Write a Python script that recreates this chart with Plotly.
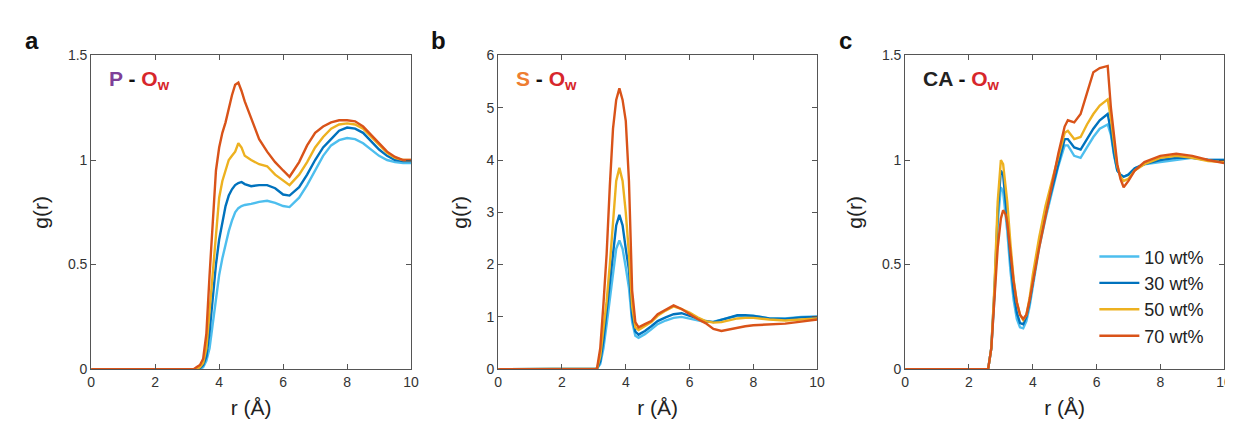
import plotly.graph_objects as go

# ---------------- data ----------------
series_names = ["10 wt%", "30 wt%", "50 wt%", "70 wt%"]
series_colors = ["#4DBEEE", "#0072BD", "#EDB120", "#D95319"]

# Panel a: P - Ow
r_a = [0, 3.2, 3.3, 3.4, 3.5, 3.6, 3.7, 3.8, 3.9, 4.0, 4.1, 4.2, 4.3, 4.4, 4.5, 4.6, 4.7, 4.8,
       5.0, 5.25, 5.5, 5.75, 6.0, 6.2, 6.5, 6.75, 7.0, 7.25, 7.5, 7.75, 8.0, 8.25, 8.5, 8.75,
       9.0, 9.25, 9.5, 9.75, 10.0]
g_a_10 = [0, 0, 0, 0, 0.01, 0.04, 0.1, 0.22, 0.35, 0.45, 0.53, 0.6, 0.66, 0.71, 0.75, 0.77, 0.78, 0.785,
          0.79, 0.8, 0.805, 0.795, 0.78, 0.775, 0.82, 0.88, 0.95, 1.02, 1.07, 1.095, 1.105, 1.1, 1.08, 1.05,
          1.02, 1.0, 0.99, 0.985, 0.985]
g_a_30 = [0, 0, 0, 0.005, 0.02, 0.06, 0.18, 0.34, 0.5, 0.62, 0.71, 0.78, 0.83, 0.86, 0.88, 0.89, 0.895, 0.885,
          0.875, 0.88, 0.88, 0.865, 0.835, 0.83, 0.87, 0.93, 1.0, 1.06, 1.1, 1.14, 1.155, 1.15, 1.13, 1.09,
          1.05, 1.02, 1.0, 0.995, 0.995]
g_a_50 = [0, 0, 0, 0.01, 0.03, 0.1, 0.28, 0.48, 0.66, 0.82, 0.9, 0.95, 1.0, 1.02, 1.04, 1.08, 1.06, 1.02,
          1.0, 0.98, 0.97, 0.93, 0.9, 0.88, 0.93, 0.99, 1.06, 1.11, 1.15, 1.17, 1.175, 1.17, 1.15, 1.11,
          1.07, 1.035, 1.01, 1.0, 1.0]
g_a_70 = [0, 0, 0.01, 0.02, 0.05, 0.17, 0.45, 0.7, 0.95, 1.06, 1.13, 1.18, 1.25, 1.31, 1.36, 1.37, 1.33, 1.28,
          1.2, 1.1, 1.04, 0.99, 0.95, 0.92, 0.99, 1.07, 1.13, 1.16, 1.18, 1.19, 1.19, 1.185, 1.16, 1.12,
          1.075, 1.04, 1.015, 1.0, 1.0]

# Panel b: S - Ow
r_b = [0, 3.05, 3.1, 3.2, 3.3, 3.4, 3.5, 3.6, 3.7, 3.8, 3.9, 4.0, 4.1, 4.2, 4.3, 4.4, 4.6, 4.8,
       5.0, 5.25, 5.5, 5.75, 6.0, 6.25, 6.5, 6.75, 7.0, 7.25, 7.5, 7.75, 8.0, 8.5, 9.0, 9.5, 10.0]
g_b_10 = [0, 0, 0.01, 0.1, 0.4, 0.85, 1.35, 1.9, 2.3, 2.46, 2.3, 1.95, 1.55, 0.9, 0.64, 0.6, 0.67, 0.76,
          0.86, 0.93, 0.98, 1.0, 0.97, 0.94, 0.9, 0.91, 0.95, 0.99, 1.02, 1.02, 1.02, 0.97, 0.97, 1.0, 1.01]
g_b_30 = [0, 0, 0.01, 0.15, 0.55, 1.1, 1.65, 2.3, 2.75, 2.95, 2.75, 2.3, 1.9, 1.0, 0.72, 0.66, 0.73, 0.82,
          0.92, 0.99, 1.05, 1.07, 1.02, 0.97, 0.92, 0.9, 0.94, 0.99, 1.03, 1.03, 1.02, 0.97, 0.96, 0.99, 1.0]
g_b_50 = [0, 0, 0.01, 0.25, 0.8, 1.3, 2.0, 2.9, 3.6, 3.85, 3.6, 3.0, 2.2, 1.2, 0.8, 0.75, 0.82, 0.9,
          1.02, 1.12, 1.2, 1.15, 1.08, 0.99, 0.92, 0.89, 0.9, 0.93, 0.97, 0.98, 0.98, 0.95, 0.93, 0.95, 0.97]
g_b_70 = [0, 0, 0.02, 0.4, 1.25, 2.2, 3.5, 4.6, 5.15, 5.37, 5.15, 4.75, 3.6, 1.5, 0.9, 0.8, 0.86, 0.92,
          1.05, 1.14, 1.22, 1.15, 1.05, 0.96, 0.88, 0.77, 0.73, 0.76, 0.8, 0.82, 0.84, 0.85, 0.87, 0.91, 0.95]

# Panel c: CA - Ow
r_c = [0, 2.6, 2.7, 2.8, 2.9, 3.0, 3.07, 3.15, 3.2, 3.3, 3.4, 3.5, 3.6, 3.7, 3.8, 3.9, 4.0, 4.2, 4.4,
       4.6, 4.8, 5.0, 5.1, 5.3, 5.5, 5.7, 5.9, 6.1, 6.35, 6.45, 6.55, 6.65, 6.75, 6.85, 7.0, 7.2, 7.5,
       8.0, 8.5, 9.0, 9.5, 10.0]
g_c_10 = [0, 0, 0.1, 0.35, 0.7, 0.87, 0.85, 0.75, 0.66, 0.47, 0.33, 0.24, 0.2, 0.195, 0.23, 0.3, 0.4, 0.58, 0.72,
          0.85, 0.97, 1.07, 1.07, 1.02, 1.01, 1.06, 1.11, 1.15, 1.17, 1.12, 1.02, 0.95, 0.93, 0.92, 0.93, 0.96, 0.98,
          0.99, 1.0, 1.01, 1.0, 1.0]
g_c_30 = [0, 0, 0.1, 0.38, 0.75, 0.95, 0.93, 0.82, 0.72, 0.52, 0.37, 0.27, 0.22, 0.215, 0.25, 0.32, 0.42, 0.6, 0.74,
          0.86, 0.99, 1.1, 1.1, 1.06, 1.05, 1.1, 1.15, 1.19, 1.22, 1.14, 1.03, 0.95, 0.93, 0.92, 0.93, 0.96, 0.98,
          1.0, 1.01, 1.01, 1.0, 1.0]
g_c_50 = [0, 0, 0.1, 0.4, 0.8, 1.0, 0.98, 0.88, 0.8, 0.6, 0.43, 0.32, 0.26, 0.235, 0.26, 0.34, 0.45, 0.63, 0.78,
          0.9, 1.02, 1.13, 1.14, 1.1, 1.11, 1.17, 1.22, 1.26, 1.29, 1.2, 1.08, 0.97, 0.92, 0.9, 0.91, 0.95, 0.98,
          1.01, 1.02, 1.01, 0.995, 0.99]
g_c_70 = [0, 0, 0.1, 0.35, 0.58, 0.72, 0.76, 0.74, 0.7, 0.56, 0.42, 0.32, 0.26, 0.24, 0.26, 0.33, 0.42, 0.58, 0.73,
          0.88, 1.03, 1.16, 1.19, 1.18, 1.22, 1.32, 1.42, 1.44, 1.45, 1.25, 1.1, 0.98, 0.91, 0.87, 0.9, 0.95, 0.99,
          1.02, 1.03, 1.02, 1.0, 0.985]

x_ticks = [0, 2, 4, 6, 8, 10]
y_ticks_a = [0, 0.5, 1, 1.5]
y_ticks_b = [0, 1, 2, 3, 4, 5, 6]
y_ticks_c = [0, 0.5, 1, 1.5]

# ---------------- figure ----------------
W, H = 1233, 424
FONT = "Liberation Sans, Arial, Helvetica, sans-serif"
fig = go.Figure()

panels = [
    ("", r_a, [g_a_10, g_a_30, g_a_50, g_a_70], y_ticks_a, [0, 1.5], (80, 403)),
    ("2", r_b, [g_b_10, g_b_30, g_b_50, g_b_70], y_ticks_b, [0, 6], (491, 813)),
    ("3", r_c, [g_c_10, g_c_30, g_c_50, g_c_70], y_ticks_c, [0, 1.5], (902, 1224)),
]

y_dom = [1 - 367 / H, 1 - 41 / H]

for idx, (sfx, r, gs, yt, yr, (xl, xr)) in enumerate(panels):
    for name, col, g in zip(series_names, series_colors, gs):
        fig.add_trace(go.Scatter(
            x=r, y=g, mode="lines", name=name,
            line=dict(color=col, width=2.4),
            xaxis="x" + sfx, yaxis="y" + sfx,
            showlegend=(idx == 2),
        ))
    axis_common = dict(showline=True, linecolor="#555555", linewidth=1, mirror="ticks",
                       ticks="inside", ticklen=5, tickcolor="#555555", showgrid=False,
                       zeroline=False, tickfont=dict(family=FONT, size=14, color="#333333"))
    fig.update_layout(**{
        "xaxis" + sfx: dict(domain=[xl / W, xr / W], range=[0, 10], tickvals=x_ticks,
                            anchor="y" + sfx,
                            title=dict(text="r (Å)", font=dict(family=FONT, size=21, color="#222222"),
                                       standoff=11),
                            **axis_common),
        "yaxis" + sfx: dict(domain=y_dom, range=yr, tickvals=yt,
                            ticktext=[("%g" % v) for v in yt],
                            anchor="x" + sfx,
                            title=dict(text="g(r)", font=dict(family=FONT, size=21, color="#222222"),
                                       standoff=13),
                            **axis_common),
    })

# panel letters
for letter, xpx in zip(["a", "b", "c"], [20, 431, 842]):
    fig.add_annotation(x=xpx / W, y=1 - 25 / H, xref="paper", yref="paper", text="<b>%s</b>" % letter,
                       showarrow=False, font=dict(family=FONT, size=24, color="#111111"),
                       xanchor="center", yanchor="middle")

# pair labels
red = "#D7262B"
labels = [
    ("<b><span style='color:#7E3F98'>P</span> - <span style='color:%s'>O<sub>w</sub></span></b>" % red, 96),
    ("<b><span style='color:#EE7D31'>S</span> - <span style='color:%s'>O<sub>w</sub></span></b>" % red, 507),
    ("<b><span style='color:#222222'>CA</span> - <span style='color:%s'>O<sub>w</sub></span></b>" % red, 918),
]
for txt, xpx in labels:
    fig.add_annotation(x=xpx / W, y=1 - 67 / H, xref="paper", yref="paper", text=txt,
                       showarrow=False, font=dict(family=FONT, size=21, color="#111111"),
                       xanchor="left", yanchor="middle")

fig.update_layout(
    width=W, height=H,
    margin=dict(l=0, r=0, t=0, b=0),
    paper_bgcolor="white", plot_bgcolor="white",
    font=dict(family=FONT, color="#222222"),
    legend=dict(x=1093 / W, y=1 - 231 / H, xanchor="left", yanchor="top",
                bgcolor="rgba(0,0,0,0)", font=dict(family=FONT, size=18, color="#222222"),
                itemwidth=40, tracegroupgap=0),
)

fig.write_html("out.html")
